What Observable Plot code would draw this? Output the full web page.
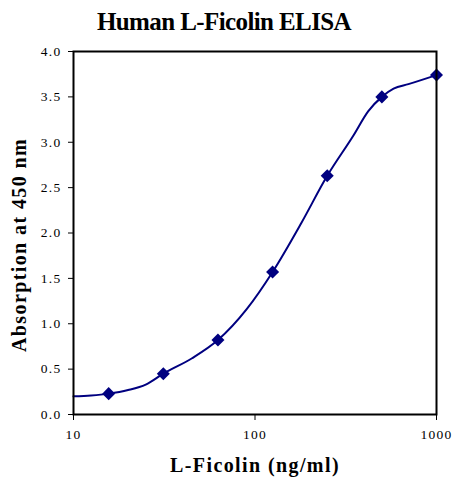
<!DOCTYPE html>
<html>
<head>
<meta charset="utf-8">
<script src="https://cdn.jsdelivr.net/npm/d3@7"></script>
<script src="https://cdn.jsdelivr.net/npm/@observablehq/plot@0.6"></script>
<style>
  body { margin: 0; background: #fff; font-family: "Liberation Serif", serif; }
  #title { height: 40px; width: 448px; text-align: center; font-weight: bold; font-size: 25px; line-height: 44px; letter-spacing: -0.6px; box-sizing: border-box; }
  #chart svg text { font-family: "Liberation Serif", serif; }
  #chart svg g[aria-label="x-axis tick label"] text { letter-spacing: 1.2px; }
  #chart svg g[aria-label="y-axis tick label"] text { letter-spacing: 1.3px; }
  #chart svg g[aria-label="x-axis label"] text, #chart svg g[aria-label="text"] text { font-weight: bold; letter-spacing: 1.4px; }
</style>
</head>
<body>
<div id="title">Human L-Ficolin ELISA</div>
<div id="chart"></div>
<script>
const concentrations = [15.625, 31.25, 62.5, 125, 250, 500, 1000];
const absorbance = [0.23, 0.45, 0.82, 1.57, 2.63, 3.50, 3.74];
const curveX = [10, 12.5, 15.625, 20, 25, 31.25, 45, 62.5, 90, 125, 180, 250, 350, 420, 500, 580, 700, 1000];
const curveY = [0.20, 0.21, 0.23, 0.27, 0.33, 0.45, 0.62, 0.82, 1.16, 1.57, 2.11, 2.63, 3.08, 3.34, 3.50, 3.59, 3.64, 3.74];
const xTicks = [10, 100, 1000];
const yTicks = [0, 0.5, 1, 1.5, 2, 2.5, 3, 3.5, 4];
const xLabel = "L-Ficolin (ng/ml)";
const yLabel = "Absorption at 450 nm";

const points = concentrations.map((c, i) => ({x: c, y: absorbance[i]}));
const curve = curveX.map((c, i) => ({x: c, y: curveY[i]}));
const navy = "#000080";

const chart = Plot.plot({
  width: 452,
  height: 437,
  marginTop: 11,
  marginBottom: 63,
  marginLeft: 73,
  marginRight: 16,
  style: {fontFamily: "Liberation Serif, serif", fontSize: "13px", color: "#000", background: "#fff"},
  x: {type: "log", domain: [10, 1000]},
  y: {domain: [0, 4]},
  marks: [
    Plot.axisX({ticks: xTicks, tickFormat: d => String(d), tickSize: 6, tickPadding: 9, stroke: "#000", strokeWidth: 1, fontSize: 13.5,
      label: null}),
    Plot.axisY({ticks: yTicks, tickFormat: d => d.toFixed(1), tickSize: 5, tickPadding: 7, stroke: "#000", fontSize: 13.5,
      label: null}),
    Plot.axisX({ticks: [], tickSize: 0, fontSize: 20, fontWeight: "bold",
      label: xLabel, labelAnchor: "center", labelArrow: false, labelOffset: 57}),
    Plot.text([yLabel], {text: d => d, frameAnchor: "left", textAnchor: "middle", rotate: -90, dx: -54, dy: 12, fontSize: 20, fontWeight: "bold", fill: "#000"}),
    Plot.line(curve, {x: "x", y: "y", stroke: navy, strokeWidth: 2, curve: "monotone-x"}),
    Plot.dot(points, {x: "x", y: "y", symbol: "square", rotate: 45, r: 5.2, fill: navy, stroke: "none"}),
    Plot.frame({stroke: "#000", strokeWidth: 2})
  ]
});
document.getElementById("chart").appendChild(chart);
</script>
</body>
</html>
